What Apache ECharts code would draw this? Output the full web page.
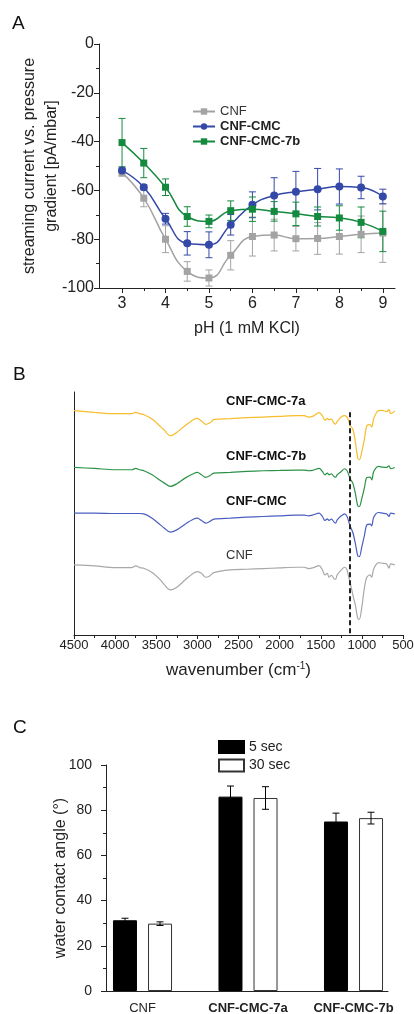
<!DOCTYPE html>
<html><head><meta charset="utf-8">
<script src="https://cdn.jsdelivr.net/npm/echarts@6/dist/echarts.min.js"></script>
<style>html,body{margin:0;padding:0;background:#fff}#c{width:414px;height:1014px}</style>
</head><body><div id="c"></div>
<script>
const FONT = "'Liberation Sans', Arial, sans-serif";

// ---------- Panel A: streaming current vs pH ----------
const pH = [3, 3.5, 4, 4.5, 5, 5.5, 6, 6.5, 7, 7.5, 8, 8.5, 9];
const pHLabels = [3, 4, 5, 6, 7, 8, 9];
const pHHalf = [3.5, 4.5, 5.5, 6.5, 7.5, 8.5];
const cnfA = [-52.7, -63.2, -80.0, -93.2, -95.9, -86.6, -78.9, -78.3, -79.8, -79.7, -78.9, -78.0, -77.5];
const cnfAErr = [1.5, 3.5, 5.5, 4.0, 3.3, 6.0, 8.0, 6.5, 5.0, 6.5, 7.2, 7.5, 12.0];
const cmcA = [-51.8, -58.7, -71.6, -81.7, -82.3, -74.1, -65.9, -62.1, -60.6, -59.5, -58.4, -58.8, -62.5];
const cmcAErr = [1.0, 1.0, 2.2, 4.8, 5.3, 4.2, 5.3, 7.3, 8.4, 8.5, 7.2, 4.6, 3.0];
const cmc7bA = [-40.4, -48.8, -58.7, -70.7, -72.7, -68.3, -67.7, -68.6, -69.6, -70.7, -71.3, -73.1, -76.8];
const cmc7bAErr = [9.9, 6.0, 3.4, 4.0, 2.6, 4.0, 5.0, 4.0, 4.8, 3.9, 5.0, 6.3, 8.3];

// ---------- Panel B: FTIR spectra (offset, arbitrary units, larger = lower) ----------
const wnB = [4500,4250,4000,3800,3750,3700,3650,3550,3450,3400,3330,3250,3150,3050,3000,2950,2900,2850,2800,2600,2400,2200,2000,1800,1700,1650,1600,1520,1480,1450,1420,1400,1370,1340,1320,1300,1250,1210,1180,1160,1140,1110,1080,1050,1030,1000,970,940,900,880,860,830,800,750,700,670,650,600];
const spec7a = [213,218,222,222,218,222,225,238,260,272,288,278,258,240,236,244,254,250,240,237,234,232,230,228,228,232,230,219,228,242,236,240,238,250,253,245,232,228,232,245,258,268,305,355,360,335,300,258,255,262,240,222,213,212,216,210,222,215];
const spec7b = [383,386,390,390,386,390,393,405,422,430,440,432,415,402,398,405,413,408,400,398,395,393,392,391,391,393,392,386,395,405,400,405,402,410,412,405,395,387,393,405,418,430,460,498,500,475,445,413,412,420,398,385,380,382,383,378,387,383];
const specCMC = [520,520,521,521,521,521,522,535,555,565,577,570,553,538,535,542,550,545,538,535,532,530,528,526,526,528,526,520,530,542,537,542,538,546,550,540,528,522,530,545,560,578,610,648,650,620,588,555,553,558,535,522,518,520,522,530,520,522];
const specCNF = [675,678,683,683,678,683,685,698,720,735,750,742,720,700,695,700,712,708,698,690,688,686,684,682,682,686,684,677,690,705,700,712,706,716,718,705,690,682,690,712,730,765,795,835,838,800,745,712,705,712,690,675,668,670,672,685,672,675];
const dashedWn = 1150;
const dashedRange = [218, 885];

// ---------- Panel C: water contact angle ----------
const samplesC = ['CNF', 'CNF-CMC-7a', 'CNF-CMC-7b'];
const angle5 = [31.3, 86.0, 75.0];
const angle5Err = [0.9, 4.7, 3.7];
const angle30 = [29.8, 85.4, 76.5];
const angle30Err = [0.8, 5.0, 2.6];

const AX = '#222';
const C_GRAY = '#a3a3a3', C_BLUE = '#3448a8', C_GREEN = '#148a3e';

function errRender(offset, color, cap) {
  return function (params, api) {
    const x = api.value(0), y = api.value(1), e = api.value(2);
    const hi = api.coord([x, y + e]), lo = api.coord([x, y - e]);
    const cx = hi[0] + offset;
    const style = { stroke: color, lineWidth: 1 };
    return { type: 'group', children: [
      { type: 'line', shape: { x1: cx, y1: hi[1], x2: cx, y2: lo[1] }, style },
      { type: 'line', shape: { x1: cx - cap, y1: hi[1], x2: cx + cap, y2: hi[1] }, style },
      { type: 'line', shape: { x1: cx - cap, y1: lo[1], x2: cx + cap, y2: lo[1] }, style }
    ]};
  };
}
const pair = (xs, ys) => xs.map((x, i) => [x, ys[i]]);
const triple = (xs, ys, es) => xs.map((x, i) => [x, ys[i], es[i]]);

const chart = echarts.init(document.getElementById('c'), null, { renderer: 'canvas' });

const axisLineBase = { show: true, onZero: false, lineStyle: { color: AX, width: 1 } };

const option = {
  backgroundColor: '#fff',
  animation: false,
  textStyle: { fontFamily: FONT },
  grid: [
    { left: 99, top: 44, width: 296, height: 244, outerBoundsMode: 'none' },
    { left: 74, top: 392, width: 329, height: 243, outerBoundsMode: 'none' },
    { left: 106, top: 765, width: 282, height: 226, outerBoundsMode: 'none' },
    { left: 89.75, top: 765, width: 316.5, height: 226, outerBoundsMode: 'none' }
  ],
  xAxis: [
    { gridIndex: 0, type: 'value', min: 2.47, max: 9.28, position: 'bottom',
      axisLine: axisLineBase, splitLine: { show: false },
      axisTick: { show: true, length: 5, lineStyle: { color: AX }, customValues: pHLabels },
      axisLabel: { show: true, customValues: pHLabels, fontSize: 16, color: AX, margin: 8, fontFamily: FONT },
      name: 'pH (1 mM KCl)', nameLocation: 'middle', nameGap: 33, nameMoveOverlap: false,
      nameTextStyle: { fontSize: 16, color: AX, fontFamily: FONT } },
    { gridIndex: 0, type: 'value', min: 2.47, max: 9.28, position: 'bottom',
      axisLine: { show: false, onZero: false }, splitLine: { show: false },
      axisTick: { show: true, length: 3, lineStyle: { color: AX }, customValues: pHHalf },
      axisLabel: { show: false } },
    { gridIndex: 1, type: 'value', min: 500, max: 4500, interval: 500, inverse: true, position: 'bottom',
      axisLine: axisLineBase, splitLine: { show: false },
      axisTick: { show: true, length: 4, lineStyle: { color: AX } },
      minorTick: { show: true, splitNumber: 2, length: 3, lineStyle: { color: AX } },
      axisLabel: { fontSize: 13, color: AX, margin: 4, fontFamily: FONT, formatter: v => String(v) },
      name: 'wavenumber (cm{sup|-1})', nameLocation: 'middle', nameGap: 26, nameMoveOverlap: false,
      nameTextStyle: { fontSize: 17, color: AX, fontFamily: FONT,
        rich: { sup: { fontSize: 10, verticalAlign: 'top', padding: [0, 0, 8, 0], color: AX, fontFamily: FONT } } } },
    { gridIndex: 2, type: 'value', min: 0, max: 1, position: 'bottom',
      axisLine: axisLineBase, axisTick: { show: false }, axisLabel: { show: false }, splitLine: { show: false } },
    { gridIndex: 3, type: 'category', data: samplesC, position: 'bottom',
      axisLine: { show: false, onZero: false }, axisTick: { show: false }, splitLine: { show: false },
      axisLabel: { interval: 0, fontSize: 13, color: AX, margin: 11, fontFamily: FONT,
        formatter: v => v === 'CNF' ? v : '{b|' + v + '}',
        rich: { b: { fontWeight: 'bold', fontSize: 13, color: AX, fontFamily: FONT } } } }
  ],
  yAxis: [
    { gridIndex: 0, type: 'value', min: -100, max: 0, interval: 20,
      axisLine: axisLineBase, splitLine: { show: false },
      axisTick: { show: true, length: 5, lineStyle: { color: AX } },
      minorTick: { show: true, splitNumber: 2, length: 3, lineStyle: { color: AX } },
      axisLabel: { fontSize: 16, color: AX, margin: 5, fontFamily: FONT },
      name: 'streaming current vs. pressure\ngradient [pA/mbar]', nameLocation: 'middle', nameGap: 36,
      nameMoveOverlap: false,
      nameTextStyle: { fontSize: 16, color: AX, lineHeight: 22, fontFamily: FONT } },
    { gridIndex: 1, type: 'value', min: 157, max: 885, inverse: true,
      axisLine: axisLineBase, axisTick: { show: false }, axisLabel: { show: false }, splitLine: { show: false } },
    { gridIndex: 2, type: 'value', min: 0, max: 100, interval: 20,
      axisLine: axisLineBase, splitLine: { show: false },
      axisTick: { show: true, length: 5, lineStyle: { color: AX } },
      minorTick: { show: true, splitNumber: 2, length: 3, lineStyle: { color: AX } },
      axisLabel: { fontSize: 14, color: AX, margin: 14, fontFamily: FONT },
      name: 'water contact angle (°)', nameLocation: 'middle', nameGap: 37, nameMoveOverlap: false,
      nameTextStyle: { fontSize: 16, color: AX, fontFamily: FONT } },
    { gridIndex: 3, type: 'value', min: 0, max: 100, show: false }
  ],
  legend: [
    { orient: 'vertical', left: 192, top: 105, padding: 0, itemWidth: 22, itemHeight: 8, itemGap: 2,
      data: ['CNF', 'CNF-CMC', 'CNF-CMC-7b'],
      textStyle: { fontSize: 13, color: '#333', lineHeight: 13, fontFamily: FONT,
        rich: { b: { fontWeight: 'bold', fontSize: 13, color: '#222', fontFamily: FONT } } },
      formatter: n => n === 'CNF' ? n : '{b|' + n + '}' },
    { orient: 'vertical', left: 218, top: 740, padding: 0, itemWidth: 25, itemHeight: 12, itemGap: 4.5, icon: 'rect',
      data: ['5 sec', '30 sec'],
      textStyle: { fontSize: 14, color: AX, lineHeight: 12, fontFamily: FONT } }
  ],
  graphic: [
    { type: 'text', left: 12, top: 14, style: { text: 'A', font: '19px ' + FONT, fill: '#111' } },
    { type: 'text', left: 13, top: 365, style: { text: 'B', font: '19px ' + FONT, fill: '#111' } },
    { type: 'text', left: 13, top: 718, style: { text: 'C', font: '19px ' + FONT, fill: '#111' } },
    { type: 'text', left: 226, top: 395, style: { text: 'CNF-CMC-7a', font: 'bold 13px ' + FONT, fill: '#111' } },
    { type: 'text', left: 226, top: 450, style: { text: 'CNF-CMC-7b', font: 'bold 13px ' + FONT, fill: '#111' } },
    { type: 'text', left: 226, top: 495, style: { text: 'CNF-CMC', font: 'bold 13px ' + FONT, fill: '#111' } },
    { type: 'text', left: 226, top: 549, style: { text: 'CNF', font: '13px ' + FONT, fill: '#333' } }
  ],
  series: [
    // Panel A
    { type: 'custom', name: 'errCNF', xAxisIndex: 0, yAxisIndex: 0, renderItem: errRender(0, C_GRAY, 3.5),
      data: triple(pH, cnfA, cnfAErr), z: 1 },
    { type: 'custom', name: 'errCMC', xAxisIndex: 0, yAxisIndex: 0, renderItem: errRender(0, C_BLUE, 3.5),
      data: triple(pH, cmcA, cmcAErr), z: 1 },
    { type: 'custom', name: 'err7b', xAxisIndex: 0, yAxisIndex: 0, renderItem: errRender(0, C_GREEN, 3.5),
      data: triple(pH, cmc7bA, cmc7bAErr), z: 1 },
    { type: 'line', name: 'CNF', xAxisIndex: 0, yAxisIndex: 0, data: pair(pH, cnfA), smooth: 0.5,
      symbol: 'rect', symbolSize: 7, color: C_GRAY, lineStyle: { width: 1.5, color: C_GRAY }, itemStyle: { color: C_GRAY }, z: 3 },
    { type: 'line', name: 'CNF-CMC', xAxisIndex: 0, yAxisIndex: 0, data: pair(pH, cmcA), smooth: 0.5,
      symbol: 'circle', symbolSize: 8, color: C_BLUE, lineStyle: { width: 1.5, color: C_BLUE }, itemStyle: { color: C_BLUE }, z: 3 },
    { type: 'line', name: 'CNF-CMC-7b', xAxisIndex: 0, yAxisIndex: 0, data: pair(pH, cmc7bA), smooth: 0.5,
      symbol: 'rect', symbolSize: 7, color: C_GREEN, lineStyle: { width: 1.5, color: C_GREEN }, itemStyle: { color: C_GREEN }, z: 3 },
    // Panel B
    { type: 'line', name: 'B-7a', xAxisIndex: 2, yAxisIndex: 1, data: pair(wnB, spec7a), symbol: 'none', smooth: 0.3,
      lineStyle: { width: 1.2, color: '#f7bd2c' } },
    { type: 'line', name: 'B-7b', xAxisIndex: 2, yAxisIndex: 1, data: pair(wnB, spec7b), symbol: 'none', smooth: 0.3,
      lineStyle: { width: 1.2, color: '#2a9247' } },
    { type: 'line', name: 'B-CMC', xAxisIndex: 2, yAxisIndex: 1, data: pair(wnB, specCMC), symbol: 'none', smooth: 0.3,
      lineStyle: { width: 1.2, color: '#4a5ec0' } },
    { type: 'line', name: 'B-CNF', xAxisIndex: 2, yAxisIndex: 1, data: pair(wnB, specCNF), symbol: 'none', smooth: 0.3,
      lineStyle: { width: 1.2, color: '#a8a8a8' },
      markLine: { silent: true, symbol: ['none', 'none'], label: { show: false },
        lineStyle: { type: [5, 3], width: 2, color: '#222' },
        data: [[{ coord: [dashedWn, dashedRange[0]] }, { coord: [dashedWn, dashedRange[1]] }]] } },
    // Panel C
    { type: 'bar', name: '5 sec', xAxisIndex: 4, yAxisIndex: 3, data: angle5, barWidth: 24, barGap: '46%',
      itemStyle: { color: '#000', borderColor: '#000', borderWidth: 1 } },
    { type: 'bar', name: '30 sec', xAxisIndex: 4, yAxisIndex: 3, data: angle30, barWidth: 24, barGap: '46%',
      itemStyle: { color: '#fff', borderColor: '#333', borderWidth: 1 } },
    { type: 'custom', name: 'err5', xAxisIndex: 4, yAxisIndex: 3, renderItem: errRender(-17.5, '#000', 3.5),
      data: triple([0, 1, 2], angle5, angle5Err), z: 5 },
    { type: 'custom', name: 'err30', xAxisIndex: 4, yAxisIndex: 3, renderItem: errRender(17.5, '#000', 3.5),
      data: triple([0, 1, 2], angle30, angle30Err), z: 5 }
  ]
};
chart.setOption(option);
</script>
</body></html>
